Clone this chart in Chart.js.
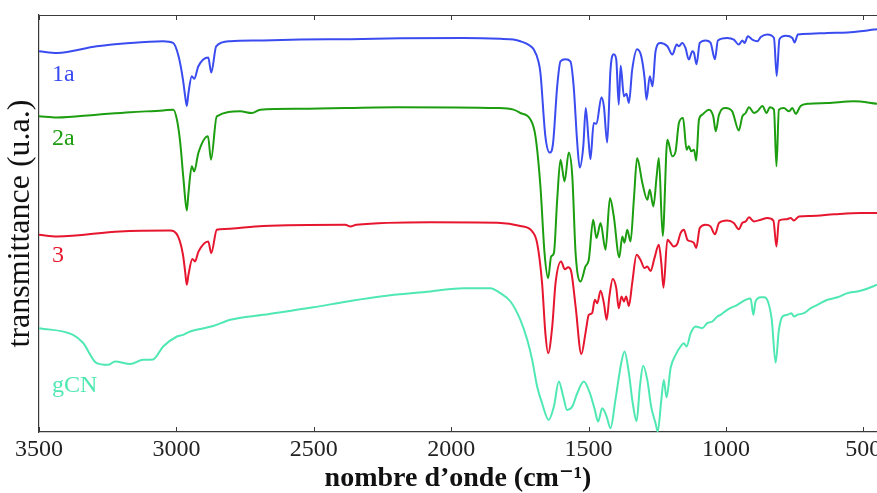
<!DOCTYPE html>
<html>
<head>
<meta charset="utf-8">
<script src="https://cdn.jsdelivr.net/npm/chart.js@4.4.0/dist/chart.umd.min.js"></script>
<style>
html,body{margin:0;padding:0;background:#fff;overflow:hidden}
</style>
</head>
<body>
<canvas id="chart" width="877" height="493"></canvas>
<script>
'use strict';
// wavenumbers (cm-1) and transmittance (u.a.)
const wn1a = [3500,3434,3290,3168,3048,3012,2992,2976,2968,2962,2956,2944,2935,2920,2884,2873,2855,2804,2684,2549,2367,2185,1955,1821,1773,1748,1719,1699,1682,1675,1657,1641,1629,1614,1602,1584,1566,1554,1541,1532,1519,1510,1500,1493,1481,1471,1453,1444,1432,1420,1408,1399,1390,1383,1371,1362,1353,1341,1323,1308,1296,1289,1277,1267,1256,1238,1213,1195,1179,1171,1159,1147,1135,1122,1116,1107,1095,1074,1056,1040,1029,995,971,953,940,932,920,904,885,873,849,825,815,805,782,758,750,738,691,630,557,485,450];
const t1a = [91.3,90.9,92.5,93.3,93.7,93.3,90.1,84.5,80.5,78.2,81.3,85.3,84.7,87.7,89.8,86.2,92.5,93.7,93.9,94.1,94.2,94.4,94.5,94.3,94.1,93.7,92.9,91.7,88.8,86.1,70.9,67.0,69.3,82.9,88.9,89.4,88.9,82.9,69.3,63.4,68.5,77.7,70.1,65.4,74.1,73.9,80.3,78.1,69.4,86.9,90.6,89.3,78.5,87.8,80.5,81.1,78.9,86.9,91.8,90.1,84.9,79.7,85.3,82.9,91.3,93.3,92.5,90.5,92.9,92.5,93.3,92.1,89.3,91.3,90.9,88.2,93.3,93.9,93.4,89.4,93.9,94.5,94.1,92.9,93.9,93.3,94.9,94.1,93.7,94.7,95.3,94.5,85.4,94.2,95.0,94.5,93.4,95.3,95.5,95.7,95.8,96.3,96.6];

const wn2a = [3500,3434,3290,3168,3048,3011,2998,2986,2974,2962,2956,2944,2935,2920,2885,2874,2853,2768,2725,2695,2549,2196,1831,1773,1748,1711,1693,1675,1660,1647,1636,1626,1614,1602,1587,1572,1559,1547,1529,1511,1499,1483,1471,1456,1438,1422,1408,1388,1377,1369,1359,1347,1335,1323,1304,1286,1277,1264,1252,1244,1230,1213,1195,1183,1171,1156,1143,1135,1126,1116,1108,1098,1086,1062,1046,1037,1025,1001,977,953,940,928,916,898,885,867,852,840,825,816,807,789,770,758,746,728,703,630,534,450];
const t2a = [75.7,75.4,76.1,76.7,77.1,77.3,74.9,69.4,60.5,53.1,57.3,63.7,62.5,66.9,70.9,65.3,75.7,76.9,76.5,77.3,77.5,77.9,77.7,77.3,76.5,74.9,70.9,58.9,42.9,36.9,42.1,42.9,55.7,65.3,60.1,67.0,61.3,42.9,36.1,39.7,41.3,50.9,46.5,50.1,43.7,56.1,51.7,41.9,46.9,45.4,48.5,45.7,55.7,65.7,59.7,55.7,58.1,54.1,61.3,65.7,47.0,70.1,66.1,67.3,74.1,75.3,67.7,68.5,67.3,67.7,65.1,74.9,76.1,77.3,75.7,72.1,76.1,77.7,76.9,72.3,75.7,76.5,77.9,76.5,76.9,78.2,76.5,77.9,77.3,63.7,77.3,77.7,76.9,77.7,76.3,78.2,78.7,78.9,79.3,78.7];

const wn3 = [3500,3434,3205,3023,2994,2976,2968,2962,2956,2942,2932,2920,2884,2873,2853,2841,2684,2385,2367,2345,2076,1831,1748,1705,1687,1669,1657,1647,1632,1620,1600,1586,1574,1563,1547,1526,1511,1499,1487,1477,1468,1456,1444,1434,1424,1412,1399,1390,1380,1371,1363,1353,1341,1325,1311,1296,1286,1274,1260,1244,1235,1227,1213,1201,1191,1177,1165,1153,1140,1126,1116,1108,1095,1074,1056,1040,1025,995,971,953,940,928,916,898,873,849,827,816,807,782,764,752,734,691,606,509,450];
const t3 = [47.3,46.9,48.1,48.3,46.9,42.5,38.4,35.3,37.7,41.5,40.9,43.2,45.7,42.9,48.5,48.6,49.4,49.7,49.3,49.7,50.3,50.2,49.4,48.1,45.3,35.7,23.7,18.9,25.3,35.7,40.9,39.0,39.5,38.5,30.1,18.7,23.7,28.1,28.5,31.7,30.9,33.9,30.9,26.9,32.5,36.7,34.5,29.7,32.5,31.3,32.5,30.2,35.7,42.5,41.3,39.3,39.7,38.6,41.7,44.9,40.5,34.6,46.1,45.3,44.5,45.1,47.7,48.5,46.1,45.7,45.3,44.1,48.9,49.7,49.3,47.4,50.1,50.7,50.1,48.6,50.2,50.5,51.5,50.5,50.9,51.3,50.7,44.5,50.7,51.0,51.3,50.7,51.7,51.8,52.2,52.5,52.5];

const wnGcn = [3500,3376,3340,3290,3249,3223,3168,3121,3085,3048,2998,2975,2950,2866,2804,2684,2502,2378,2258,2076,1955,1857,1821,1784,1748,1723,1705,1687,1669,1645,1626,1608,1592,1578,1559,1541,1517,1495,1477,1465,1450,1434,1420,1402,1381,1369,1353,1339,1325,1313,1301,1286,1272,1256,1248,1235,1226,1216,1201,1183,1165,1153,1143,1128,1110,1098,1086,1068,1049,1031,1019,995,958,928,910,900,892,873,861,847,833,819,807,794,776,762,752,740,716,691,667,630,594,557,521,497,450];
const tGcn = [24.9,23.3,21.4,16.5,16.1,16.9,16.3,17.3,17.4,20.5,22.9,23.3,24.1,25.4,26.9,28.1,29.9,31.3,32.5,33.7,34.5,34.5,33.3,31.3,26.9,22.1,17.3,10.9,6.9,2.9,6.1,12.1,8.5,5.3,6.1,9.3,12.1,9.3,5.3,2.5,5.7,3.7,0.9,7.7,16.5,19.3,14.1,6.9,2.6,10.9,15.9,12.5,6.1,2.1,0.1,7.7,12.5,8.3,15.4,18.5,20.5,21.3,20.5,23.7,25.3,25.1,24.9,26.1,26.5,27.7,28.1,29.3,30.5,31.7,32.0,28.1,31.3,32.3,32.3,31.3,26.9,16.6,24.5,27.7,28.1,28.5,27.7,28.1,28.5,29.7,30.5,31.7,32.3,33.3,33.7,34.1,35.3];

const seriesNames = ['1a','2a','3','gCN'];
const xTicks = [3500,3000,2500,2000,1500,1000,500];

// where the sample names sit (data units)
const labelWn = 3453,
	labelT = [84.1,68.9,40.7,9.7];

const colours = ['#3a4cf0','#1c9e10','#e6162e','#50e8b2'];
const serif = "'Liberation Serif', 'DejaVu Serif', serif";
const axisColour = '#3a3a3a';

const toPoints = (xs, ys) => xs.map((x, i) => ({x: x, y: ys[i]}));

//------- [ frame, inward ticks, sample names ] --------
const extras = {
	id: 'extras',
	afterDraw(chart) {
		const ctx = chart.ctx,
			a = chart.chartArea,
			x = chart.scales.x,
			y = chart.scales.y;
		ctx.save();
		ctx.strokeStyle = axisColour;
		ctx.lineWidth = 1.2;
		ctx.beginPath();
		ctx.moveTo(a.left, a.top + 0.5);
		ctx.lineTo(a.right, a.top + 0.5);
		ctx.stroke();
		ctx.lineWidth = 1;
		ctx.beginPath();
		xTicks.forEach(v => {
			let px = Math.round(x.getPixelForValue(v)) + 0.5;
			ctx.moveTo(px, a.bottom);
			ctx.lineTo(px, a.bottom - 5);
			ctx.moveTo(px, a.top);
			ctx.lineTo(px, a.top + 5);
		});
		ctx.stroke();
		ctx.font = '24px ' + serif;
		ctx.textAlign = 'left';
		ctx.textBaseline = 'alphabetic';
		seriesNames.forEach((n, i) => {
			ctx.fillStyle = colours[i];
			ctx.fillText(n, x.getPixelForValue(labelWn), y.getPixelForValue(labelT[i]));
		});
		ctx.restore();
	}
};

const series = [[wn1a, t1a], [wn2a, t2a], [wn3, t3], [wnGcn, tGcn]];

new Chart(document.getElementById('chart').getContext('2d'), {
	type: 'line',
	data: {
		datasets: series.map((s, i) => ({
			label: seriesNames[i],
			data: toPoints(s[0], s[1]),
			borderColor: colours[i],
			borderWidth: 2,
			pointRadius: 0,
			fill: false,
			cubicInterpolationMode: 'monotone'
		}))
	},
	options: {
		responsive: false,
		animation: false,
		layout: {padding: {top: 15, right: 0, bottom: 0, left: 0}},
		plugins: {legend: {display: false}, tooltip: {enabled: false}},
		scales: {
			x: {
				type: 'linear',
				reverse: true,
				min: 450,
				max: 3500,
				afterBuildTicks: s => { s.ticks = xTicks.map(v => ({value: v})); },
				afterFit: s => { s.height = 61; s.paddingLeft = 0; s.paddingRight = 0; },
				grid: {display: false, drawTicks: false},
				border: {display: true, color: axisColour, width: 1.2},
				ticks: {
					font: {family: serif, size: 24},
					color: '#222',
					padding: 3,
					maxRotation: 0,
					callback: v => String(v)
				},
				title: {
					display: true,
					text: 'nombre d\u2019onde (cm\u207B\u00B9)',
					font: {family: serif, size: 28, weight: 'bold', lineHeight: 1},
					color: '#111',
					padding: {top: 0, bottom: 0}
				}
			},
			y: {
				type: 'linear',
				min: 0,
				max: 100,
				afterFit: s => { s.width = 39; },
				grid: {display: false, drawTicks: false},
				border: {display: true, color: axisColour, width: 1.2},
				ticks: {display: false},
				title: {
					display: true,
					text: 'transmittance (u.a.)',
					font: {family: serif, size: 32, lineHeight: 1.2},
					color: '#111',
					padding: {top: 1, bottom: 0}
				}
			}
		}
	},
	plugins: [extras]
});
</script>
</body>
</html>
